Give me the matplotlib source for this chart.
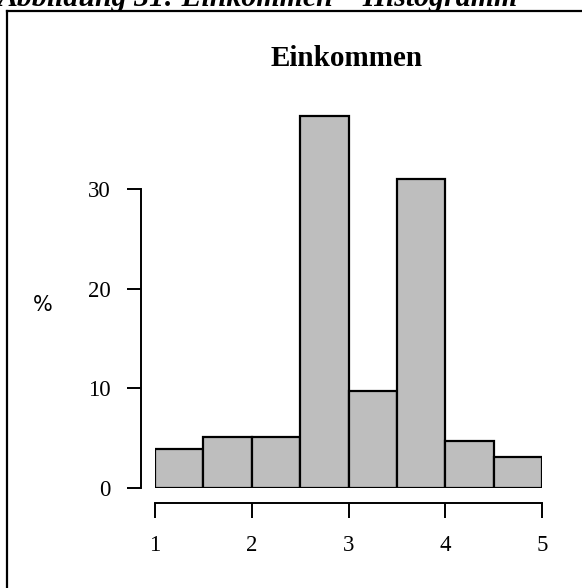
import matplotlib.pyplot as plt
from matplotlib.lines import Line2D

# Histogram of "Einkommen" (income category), share of respondents in %.
bin_edges = [1.0, 1.5, 2.0, 2.5, 3.0, 3.5, 4.0, 4.5, 5.0]
percent = [3.9, 5.1, 5.1, 37.3, 9.7, 31.0, 4.7, 3.1]
x_ticks = [1, 2, 3, 4, 5]
y_ticks = [0, 10, 20, 30]

W, H = 582, 588
fig = plt.figure(figsize=(W / 100, H / 100), dpi=100)
plt.rcParams['font.family'] = ['Liberation Serif', 'DejaVu Serif']

# Axes box covers exactly the data region (x 1..5, y 0..38)
left, right = 155, 542
bottom, top = 488, 109.3
ax = fig.add_axes([left / W, 1 - bottom / H, (right - left) / W, (bottom - top) / H])

widths = [b - a for a, b in zip(bin_edges[:-1], bin_edges[1:])]
ax.bar(bin_edges[:-1], percent, width=widths, align='edge',
       color='#bebebe', edgecolor='black', linewidth=1.6)

ax.set_xlim(1, 5)
ax.set_ylim(0, 38)

# R-style detached axes
for s in ['top', 'right']:
    ax.spines[s].set_visible(False)
ax.spines['left'].set_position(('outward', 10))
ax.spines['bottom'].set_position(('outward', 10.8))
ax.spines['left'].set_bounds(0, 30)
ax.spines['bottom'].set_bounds(1, 5)
for s in ['left', 'bottom']:
    ax.spines[s].set_linewidth(1.4)

ax.set_xticks(x_ticks)
ax.set_yticks(y_ticks)
ax.tick_params(axis='y', length=10, width=1.4, pad=12, labelsize=16.5)
ax.tick_params(axis='x', length=10.8, width=1.4, pad=12, labelsize=16.5)

fig.text(43 / W, 1 - 305 / H, '%', ha='center', va='center', fontsize=15,
         family='DejaVu Sans')
fig.text(347 / W, 1 - 58 / H, 'Einkommen', ha='center', va='center',
         fontsize=21, fontweight='bold')

# document caption cut off at the top, plus frame around the figure
fig.text(-2 / W, 1 - 6 / H, 'Abbildung 31: Einkommen \u2013 Histogramm',
         ha='left', va='baseline', fontsize=21.5, fontweight='bold',
         fontstyle='italic')
fig.add_artist(Line2D([7 / W, 1], [1 - 11 / H, 1 - 11 / H], color='black',
                      linewidth=1.6, transform=fig.transFigure))
fig.add_artist(Line2D([7 / W, 7 / W], [1 - 11 / H, 0], color='black',
                      linewidth=1.6, transform=fig.transFigure))

fig.savefig('out.png', dpi=100)
